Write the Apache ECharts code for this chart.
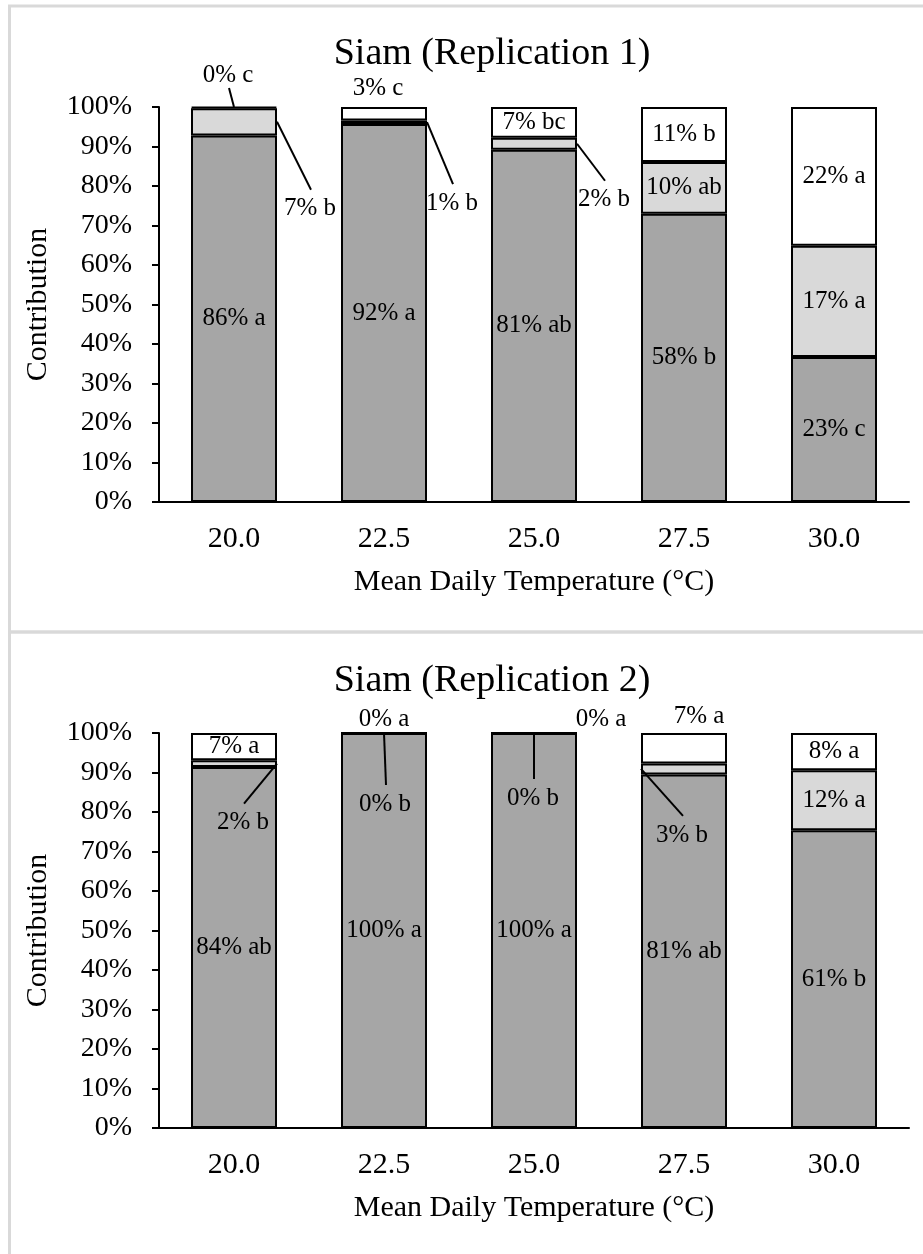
<!DOCTYPE html>
<html>
<head>
<meta charset="utf-8">
<script src="https://cdn.jsdelivr.net/npm/echarts@6/dist/echarts.min.js"></script>
<style>
  html, body { margin: 0; padding: 0; background: #fff; }
  #main { width: 923px; height: 1254px; }
</style>
</head>
<body>
<div id="main"></div>
<script>
const temps = ['20.0', '22.5', '25.0', '27.5', '30.0'];

// Replication 1: segment heights as drawn on the axis (%)
const rep1Dark = [92.8, 95.7, 89.2, 73.0, 36.7];
const rep1Light = [6.9, 0.9, 3.0, 13.1, 28.2];
const rep1White = [0.3, 3.4, 7.8, 13.9, 35.1];
const rep1DarkText = ['86% a', '92% a', '81% ab', '58% b', '23% c'];
const rep1LightText = ['7% b', '1% b', '2% b', '10% ab', '17% a'];
const rep1WhiteText = ['0% c', '3% c', '7% bc', '11% b', '22% a'];

// Replication 2
const rep2Dark = [91.4, 100, 100, 89.5, 75.4];
const rep2Light = [1.7, 0, 0, 2.8, 15.2];
const rep2White = [6.9, 0, 0, 7.7, 9.4];
const rep2DarkText = ['84% ab', '100% a', '100% a', '81% ab', '61% b'];
const rep2LightText = ['2% b', '0% b', '0% b', '3% b', '12% a'];
const rep2WhiteText = ['7% a', '0% a', '0% a', '7% a', '8% a'];

// labels drawn outside the bar: [category, segment(0 dark,1 light,2 white), anchor side, dx, dy, leader line]
const rep1Callouts = [
  [0, 1, 1, 33, 87, true],
  [0, 2, 0, -6, -32, true],
  [1, 1, 1, 25, 81, true],
  [1, 2, 0, -6, -19, false],
  [2, 1, 1, 27, 56, true]
];
const rep2Callouts = [
  [0, 1, 1, -34, 59, true],
  [1, 1, 0, 1, 71, true],
  [1, 2, 0, 0, -14, false],
  [2, 1, 0, -1, 65, true],
  [2, 2, 0, 67, -14, false],
  [3, 1, -1, 41, 66, true],
  [3, 2, 0, 15, -17, false]
];

const FONT = 'Liberation Serif, Times New Roman, serif';
const colors = ['#a6a6a6', '#d9d9d9', '#ffffff'];
const BAR_W = 86;
const LABEL_SIZE = 25;

const panels = [
  { title: 'Siam (Replication 1)', top: 107, titleTop: 35, segs: [rep1Dark, rep1Light, rep1White],
    texts: [rep1DarkText, rep1LightText, rep1WhiteText], callouts: rep1Callouts },
  { title: 'Siam (Replication 2)', top: 733, titleTop: 662, segs: [rep2Dark, rep2Light, rep2White],
    texts: [rep2DarkText, rep2LightText, rep2WhiteText], callouts: rep2Callouts }
];

const chart = echarts.init(document.getElementById('main'));

const grids = [], xAxes = [], yAxes = [], titles = [], series = [];
panels.forEach(function (p, g) {
  grids.push({ left: 159, width: 750, top: p.top, height: 395 });
  titles.push({
    text: p.title, left: 492, top: p.titleTop, textAlign: 'center', padding: 0,
    textStyle: { fontFamily: FONT, fontSize: 38, fontWeight: 'normal', color: '#000' }
  });
  xAxes.push({
    type: 'category', gridIndex: g, data: temps,
    axisLine: { lineStyle: { color: '#000', width: 2 } },
    axisTick: { show: false },
    axisLabel: { fontFamily: FONT, fontSize: 30, color: '#000', margin: 22 },
    name: 'Mean Daily Temperature (°C)', nameLocation: 'middle', nameGap: 65,
    nameTextStyle: { fontFamily: FONT, fontSize: 30, color: '#000' }
  });
  yAxes.push({
    type: 'value', gridIndex: g, min: 0, max: 100, interval: 10,
    axisLine: { show: true, lineStyle: { color: '#000', width: 2 } },
    axisTick: { show: true, length: 7, lineStyle: { color: '#000', width: 2 } },
    splitLine: { show: false },
    axisLabel: { formatter: '{value}%', fontFamily: FONT, fontSize: 28, color: '#000', margin: 27 },
    name: 'Contribution', nameLocation: 'middle', nameGap: 106,
    nameTextStyle: { fontFamily: FONT, fontSize: 30, color: '#000' }
  });
  const outside = {};
  p.callouts.forEach(function (c) { outside[c[0] + '-' + c[1]] = true; });
  p.segs.forEach(function (vals, s) {
    series.push({
      type: 'bar', stack: 'p' + g, xAxisIndex: g, yAxisIndex: g,
      barWidth: BAR_W, data: vals,
      itemStyle: { color: colors[s], borderColor: '#000', borderWidth: 2 },
      label: {
        show: true, position: 'inside', fontFamily: FONT, fontSize: LABEL_SIZE, color: '#000',
        formatter: function (prm) {
          return outside[prm.dataIndex + '-' + s] ? '' : p.texts[s][prm.dataIndex];
        }
      },
      emphasis: { disabled: true },
      animation: false
    });
  });
});

chart.setOption({
  backgroundColor: '#fff',
  animation: false,
  title: titles,
  grid: grids,
  xAxis: xAxes,
  yAxis: yAxes,
  series: series
});

// frames and callout labels
const graphics = [
  { type: 'rect', shape: { x: 9.5, y: 6, width: 930, height: 626 }, style: { fill: 'none', stroke: '#d9d9d9', lineWidth: 3 }, z: -1 },
  { type: 'rect', shape: { x: 9.5, y: 632, width: 930, height: 640 }, style: { fill: 'none', stroke: '#d9d9d9', lineWidth: 3 }, z: -1 }
];
panels.forEach(function (p, g) {
  p.callouts.forEach(function (c) {
    const cat = c[0], s = c[1];
    let base = 0;
    for (let k = 0; k < s; k++) base += p.segs[k][cat];
    // labels above a bar sit on its top, leader lines start at the segment middle
    const v = c[4] < 0 ? base + p.segs[s][cat] : base + p.segs[s][cat] / 2;
    const pt = chart.convertToPixel({ xAxisIndex: g, yAxisIndex: g }, [cat, v]);
    const ax = pt[0] + c[2] * BAR_W / 2, ay = pt[1];
    const lx = ax + c[3], ly = ay + c[4];
    graphics.push({
      type: 'text', z: 10,
      style: { text: p.texts[s][cat], x: lx, y: ly, align: 'center', verticalAlign: 'middle',
        fontFamily: FONT, fontSize: LABEL_SIZE, fill: '#000' }
    });
    if (c[5]) {
      const ey = c[4] > 0 ? ly - 19 : ly + 13;
      graphics.push({
        type: 'line', z: 10,
        shape: { x1: ax, y1: ay, x2: lx + 1, y2: ey },
        style: { stroke: '#000', lineWidth: 2 }
      });
    }
  });
});
chart.setOption({ graphic: graphics });
</script>
</body>
</html>
